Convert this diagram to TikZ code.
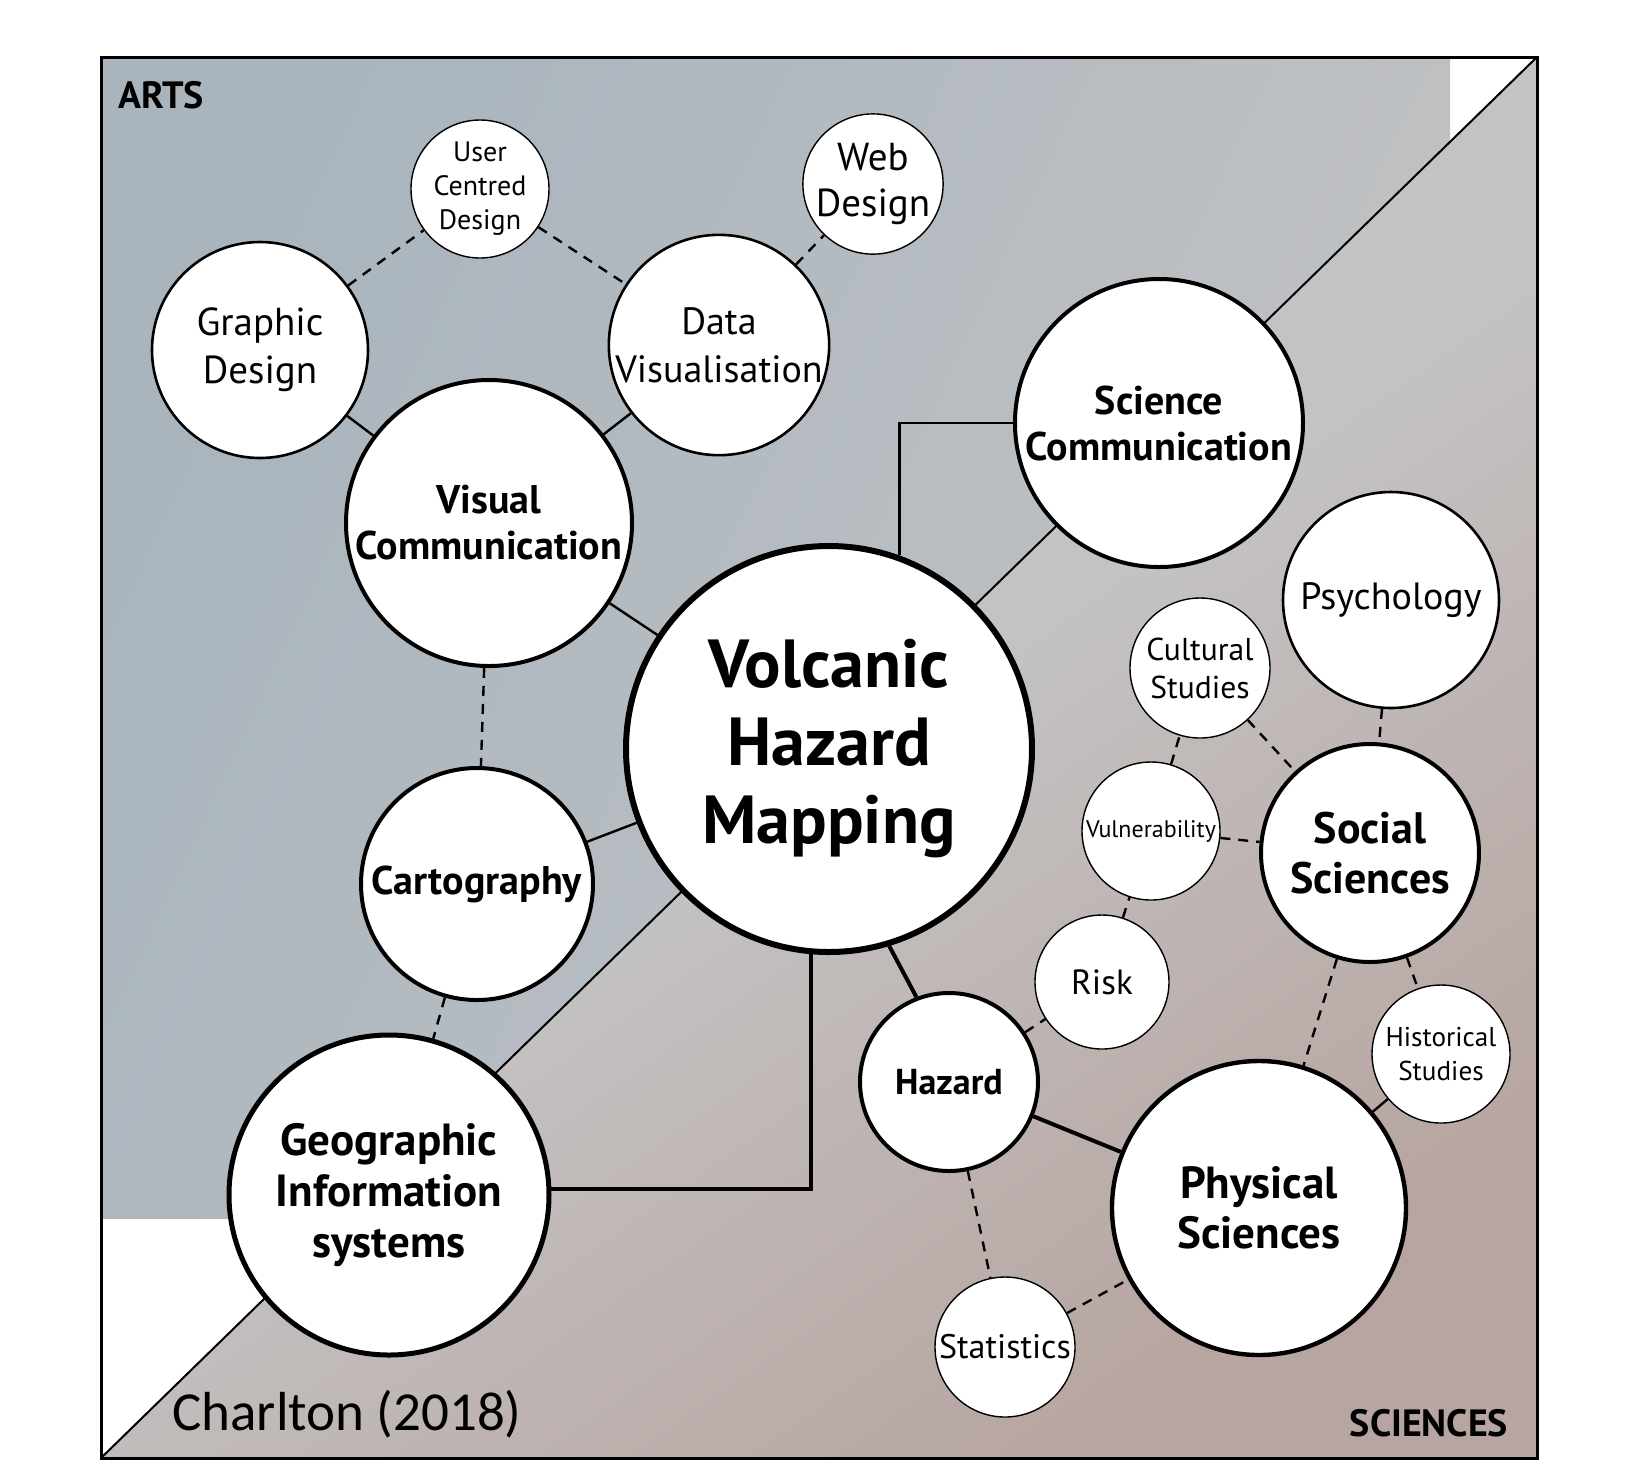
\documentclass[tikz,border=0pt]{standalone}
\usepackage{fontspec}
\setmainfont{PT Sans}
\newfontfamily\creditfont{Carlito}
\usepackage{xcolor}
\definecolor{artsblue}{HTML}{A9B4BD}
\definecolor{artsmid}{HTML}{B6BCC1}
\definecolor{midgrey}{HTML}{C4C3C3}
\definecolor{sciencerose}{HTML}{B7A5A1}

\begin{document}
\begin{tikzpicture}[x=0.5pt, y=-0.5pt,
    hub/.style={circle, draw, fill=white, inner sep=0pt, line width=3pt, align=center,
        font=\bfseries\fontsize{34}{39}\selectfont},
    field/.style={circle, draw, fill=white, inner sep=0pt, line width=2pt, align=center,
        font=\bfseries\fontsize{20}{23}\selectfont},
    subject/.style={circle, draw, fill=white, inner sep=0pt, line width=1.3pt, align=center,
        font=\fontsize{19}{24}\selectfont},
    topic/.style={circle, draw, fill=white, inner sep=0pt, line width=0.7pt, align=center,
        font=\fontsize{14}{17}\selectfont},
    link/.style={line width=1.2pt},
    strong/.style={line width=2pt},
    loose/.style={line width=1.2pt, dash pattern=on 5pt off 4pt}]
    \useasboundingbox (0,0) rectangle (1650,1480);

    % arts and sciences halves
    \shade[top color=artsblue, bottom color=midgrey, middle color=artsmid, shading angle=65] (101,57) rectangle (1450,1218);
    \shade[top color=midgrey, bottom color=sciencerose, middle color=midgrey, shading angle=35] (101,1458) -- (1537,57) -- (1537,1458) -- cycle;
    \draw[line width=1.5pt] (101,57) rectangle (1537,1458);
    \draw[line width=1pt] (101,1458) -- (1537,57);

    \node[font=\bfseries\fontsize{19}{19}\selectfont] (arts) at (161,95) {ARTS};
    \node[font=\bfseries\fontsize{19}{19}\selectfont] (sciences) at (1429,1423) {SCIENCES};
    \node[font=\creditfont\fontsize{27.5}{28}\selectfont] (credit) at (347,1414) {Charlton (2018)};

    % circles
    \node[hub, minimum size=203pt] (vhm) at (829,749) {Volcanic\\Hazard\\Mapping};
    \node[field, minimum size=143pt] (viscom) at (489,523) {Visual\\Communication};
    \node[subject, minimum size=108pt, font=\fontsize{19.5}{24}\selectfont] (graphic) at (260,350) {Graphic\\Design};
    \node[topic, minimum size=69pt] (ucd) at (480,189) {User\\Centred\\Design};
    \node[subject, minimum size=108pt] (datavis) at (719,345) {Data\\Visualisation};
    \node[topic, minimum size=70pt, font=\fontsize{19.5}{23}\selectfont] (web) at (873,184) {Web\\Design};
    \node[field, minimum size=144pt] (scicom) at (1159,423) {Science\\Communication};
    \node[subject, minimum size=108pt] (psych) at (1391,600) {Psychology};
    \node[topic, minimum size=70pt, font=\fontsize{15.8}{19}\selectfont] (cultural) at (1200,668) {Cultural\\Studies};
    \node[topic, minimum size=69pt, font=\fontsize{12}{14}\selectfont] (vuln) at (1151,831) {Vulnerability};
    \node[field, minimum size=109pt, font=\bfseries\fontsize{22}{25}\selectfont] (social) at (1370,853) {Social\\Sciences};
    \node[topic, minimum size=67pt, font=\fontsize{17.5}{19}\selectfont] (risk) at (1102,982) {Risk};
    \node[field, minimum size=89pt, font=\bfseries\fontsize{18}{19}\selectfont] (hazard) at (949,1082) {Hazard};
    \node[topic, minimum size=69pt, font=\fontsize{13.6}{17}\selectfont] (hist) at (1441,1054) {Historical\\Studies};
    \node[field, minimum size=147pt, line width=2.2pt, font=\bfseries\fontsize{22.5}{25}\selectfont] (phys) at (1259,1208) {Physical\\Sciences};
    \node[topic, minimum size=70pt, font=\fontsize{17}{19}\selectfont] (stats) at (1005,1347) {Statistics};
    \node[field, minimum size=116pt] (carto) at (477,884) {Cartography};
    \node[field, minimum size=160pt, line width=2.5pt, font=\bfseries\fontsize{22.5}{25.5}\selectfont] (gis) at (389,1195) {Geographic\\Information\\systems};

    % connections
    \draw[loose] (graphic) -- (ucd);
    \draw[loose] (ucd) -- (datavis);
    \draw[loose] (datavis) -- (web);
    \draw[link] (graphic) -- (viscom);
    \draw[link] (datavis) -- (viscom);
    \draw[link] (viscom) -- (vhm);
    \draw[loose] (viscom) -- (carto);
    \draw[link] (carto) -- (vhm);
    \draw[loose] (carto) -- (gis);
    \draw[strong] (gis.2) -| (vhm.265);
    \draw[link] (vhm.70) |- (scicom.west);
    \draw[strong] (vhm.-73) -- (hazard.111);
    \draw[strong] (hazard) -- (phys);
    \draw[loose] (hazard) -- (risk);
    \draw[loose] (hazard) -- (stats);
    \draw[loose] (stats) -- (phys);
    \draw[loose] (risk) -- (vuln);
    \draw[loose] (vuln) -- (cultural);
    \draw[loose] (vuln) -- (social);
    \draw[loose] (cultural) -- (social);
    \draw[loose] (psych) -- (social);
    \draw[loose] (social) -- (hist);
    \draw[loose] (social) -- (phys);
    \draw[link] (hist) -- (phys);
\end{tikzpicture}
\end{document}
